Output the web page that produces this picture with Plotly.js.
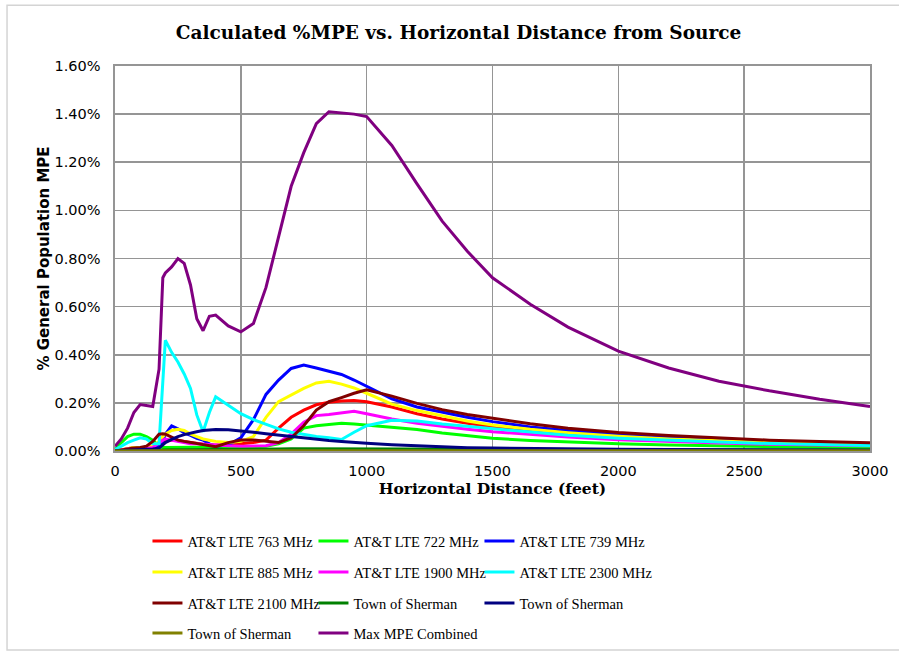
<!DOCTYPE html>
<html>
<head>
<meta charset="utf-8">
<script src="https://cdn.plot.ly/plotly-3.0.1.min.js"></script>
<style>html,body{margin:0;padding:0;background:#fff;}#chart{width:899px;height:656px;}</style>
</head>
<body>
<div id="chart"></div>
<script>
// Horizontal distance (feet)
var distance = [0,25,50,75,100,125,150,175,190,200,225,250,275,300,325,350,375,400,450,500,550,600,650,700,750,800,850,900,950,1000,1100,1200,1300,1400,1500,1650,1800,2000,2200,2400,2600,2800,3000];

// % General Population MPE (values in percent)
var lte763  = [0,0.005,0.01,0.015,0.015,0.015,0.02,0.03,0.035,0.04,0.045,0.045,0.04,0.035,0.03,0.028,0.025,0.025,0.025,0.03,0.035,0.045,0.095,0.14,0.17,0.192,0.203,0.208,0.21,0.205,0.183,0.155,0.133,0.115,0.101,0.084,0.07,0.057,0.047,0.039,0.033,0.029,0.025];
var lte722  = [0.005,0.035,0.06,0.07,0.07,0.06,0.045,0.02,0.015,0.015,0.015,0.015,0.015,0.015,0.015,0.015,0.015,0.015,0.016,0.017,0.018,0.02,0.03,0.05,0.095,0.105,0.11,0.115,0.112,0.108,0.097,0.089,0.075,0.063,0.053,0.044,0.037,0.03,0.025,0.021,0.018,0.015,0.013];
var lte739  = [0,0.005,0.01,0.012,0.012,0.012,0.015,0.02,0.04,0.07,0.104,0.092,0.075,0.065,0.053,0.045,0.03,0.02,0.025,0.055,0.13,0.235,0.295,0.343,0.357,0.345,0.33,0.318,0.295,0.27,0.217,0.183,0.16,0.14,0.122,0.1,0.085,0.068,0.056,0.047,0.04,0.035,0.03];
var lte885  = [0,0.005,0.01,0.015,0.015,0.015,0.02,0.04,0.06,0.07,0.085,0.09,0.085,0.07,0.06,0.05,0.045,0.04,0.035,0.04,0.06,0.14,0.205,0.232,0.26,0.283,0.29,0.278,0.262,0.24,0.195,0.168,0.145,0.125,0.108,0.09,0.076,0.061,0.05,0.042,0.036,0.031,0.027];
var lte1900 = [0,0.005,0.008,0.01,0.01,0.01,0.015,0.035,0.045,0.05,0.045,0.04,0.035,0.03,0.03,0.028,0.027,0.025,0.022,0.02,0.02,0.022,0.035,0.07,0.12,0.147,0.152,0.158,0.165,0.155,0.133,0.115,0.102,0.09,0.08,0.068,0.058,0.047,0.039,0.033,0.028,0.025,0.022];
var lte2300 = [0.005,0.02,0.035,0.045,0.055,0.05,0.03,0.03,0.3,0.46,0.41,0.37,0.32,0.26,0.15,0.08,0.16,0.225,0.19,0.155,0.13,0.11,0.092,0.078,0.068,0.06,0.055,0.048,0.078,0.105,0.128,0.125,0.112,0.102,0.093,0.078,0.065,0.053,0.044,0.037,0.031,0.027,0.023];
var lte2100 = [0,0.005,0.01,0.012,0.015,0.02,0.04,0.07,0.072,0.07,0.058,0.045,0.04,0.035,0.03,0.025,0.02,0.018,0.035,0.046,0.046,0.04,0.035,0.055,0.105,0.17,0.205,0.222,0.24,0.254,0.228,0.198,0.172,0.152,0.136,0.113,0.095,0.077,0.064,0.053,0.045,0.039,0.034];
var sherman1 = [0,0.001,0.002,0.002,0.003,0.003,0.003,0.004,0.004,0.005,0.005,0.005,0.005,0.006,0.006,0.006,0.006,0.006,0.007,0.007,0.007,0.008,0.008,0.009,0.009,0.01,0.01,0.01,0.01,0.01,0.009,0.009,0.008,0.008,0.007,0.007,0.006,0.006,0.005,0.005,0.005,0.004,0.004];
var sherman2 = [0,0.002,0.004,0.005,0.006,0.007,0.008,0.012,0.025,0.035,0.048,0.06,0.068,0.075,0.08,0.085,0.088,0.089,0.088,0.084,0.078,0.072,0.066,0.06,0.055,0.05,0.044,0.04,0.035,0.032,0.026,0.021,0.017,0.014,0.012,0.01,0.008,0.007,0.006,0.005,0.004,0.004,0.003];
var sherman3 = [0,0.001,0.001,0.001,0.001,0.001,0.001,0.001,0.001,0.001,0.001,0.001,0.001,0.001,0.001,0.001,0.001,0.001,0.001,0.001,0.001,0.001,0.001,0.001,0.001,0.001,0.001,0.001,0.001,0.001,0.001,0.001,0.001,0.001,0.001,0.001,0.001,0.001,0.001,0.001,0.001,0.001,0.001];
var maxCombined = [0.02,0.05,0.095,0.16,0.193,0.188,0.185,0.34,0.72,0.74,0.765,0.8,0.78,0.69,0.55,0.5,0.56,0.565,0.52,0.495,0.53,0.68,0.89,1.1,1.24,1.36,1.41,1.405,1.40,1.39,1.27,1.11,0.955,0.83,0.72,0.61,0.515,0.415,0.345,0.29,0.25,0.215,0.185];

var seriesNames = ["AT&T LTE 763 MHz","AT&T LTE 722 MHz","AT&T LTE 739 MHz","AT&T LTE 885 MHz","AT&T LTE 1900 MHz","AT&T LTE 2300 MHz","AT&T LTE 2100 MHz","Town of Sherman","Town of Sherman","Town of Sherman","Max MPE Combined"];
var seriesColors = ["#FF0000","#00FF00","#0000FF","#FFFF00","#FF00FF","#00FFFF","#800000","#008000","#000080","#808000","#800080"];
var seriesValues = [lte763,lte722,lte739,lte885,lte1900,lte2300,lte2100,sherman1,sherman2,sherman3,maxCombined];

var yTickVals = [0,0.2,0.4,0.6,0.8,1.0,1.2,1.4,1.6];
var xTickVals = [0,500,1000,1500,2000,2500,3000];

var legendIds = ['legend','legend2','legend3','legend4'];

var traces = seriesValues.map(function(v,i){
  return {
    x: distance, y: v, type: 'scatter', mode: 'lines',
    name: seriesNames[i],
    legend: legendIds[Math.floor(i/3)],
    line: {color: seriesColors[i], width: 3}
  };
});
// invisible spacer entries so the last legend column text is not clipped
legendIds.forEach(function(id){
  traces.push({x: [null], y: [null], type: 'scatter', mode: 'lines', name: ' ',
    legend: id, hoverinfo: 'skip', line: {color: 'rgba(0,0,0,0)', width: 0}});
});

var serifB = "'DejaVu Serif', serif";
var serifL = "'Liberation Serif', serif";
var sans = "'DejaVu Sans', sans-serif";

function legendRow(yCenterPx){
  return {
    orientation: 'h', x: 0.043, xanchor: 'left',
    y: -(yCenterPx - 451) / 385, yanchor: 'middle',
    font: {family: serifL, size: 14.5, color: '#000'},
    entrywidth: 121, entrywidthmode: 'pixels',
    traceorder: 'normal', bgcolor: 'rgba(0,0,0,0)', borderwidth: 0
  };
}

var layout = {
  width: 899, height: 656,
  margin: {l: 115, r: 29, t: 66, b: 205, autoexpand: false},
  paper_bgcolor: '#ffffff', plot_bgcolor: '#ffffff',
  title: {text: '<b>Calculated %MPE vs. Horizontal Distance from Source</b>', font: {family: serifB, size: 18.5, color: '#000'}, x: 0.51, xanchor: 'center', y: 0.95, yanchor: 'middle'},
  xaxis: {
    range: [0, 3000], tickvals: xTickVals, ticktext: xTickVals.map(String),
    showgrid: true, gridcolor: '#959595', gridwidth: 1.6,
    showline: true, linecolor: '#959595', linewidth: 1.6, mirror: true,
    zeroline: false, ticks: '', ticklabelstandoff: 6,
    tickfont: {family: sans, size: 14.5, color: '#000'},
    title: {text: '<b>Horizontal Distance (feet)</b>', font: {family: serifB, size: 15.5, color: '#000'}, standoff: 1}
  },
  yaxis: {
    range: [0, 1.6], tickvals: yTickVals, ticktext: yTickVals.map(function(v){return v.toFixed(2)+'%';}),
    showgrid: true, gridcolor: '#959595', gridwidth: 1.6,
    showline: true, linecolor: '#959595', linewidth: 1.6, mirror: true,
    zeroline: false, ticks: '', ticklabelstandoff: 10,
    tickfont: {family: sans, size: 14.5, color: '#000'},
    title: {text: '<b>% General Population MPE</b>', font: {family: sans, size: 15, color: '#000'}, standoff: 1}
  },
  showlegend: true,
  legend: legendRow(541),
  legend2: legendRow(572),
  legend3: legendRow(603),
  legend4: legendRow(633),
  shapes: [{
    type: 'rect', xref: 'paper', yref: 'paper',
    x0: -0.143, x1: 1.05, y0: -0.517, y1: 1.158,
    line: {color: '#d4d4d4', width: 1.5}, fillcolor: 'rgba(0,0,0,0)', layer: 'below'
  }]
};

Plotly.newPlot('chart', traces, layout, {displayModeBar: false, staticPlot: true});
</script>
</body>
</html>
